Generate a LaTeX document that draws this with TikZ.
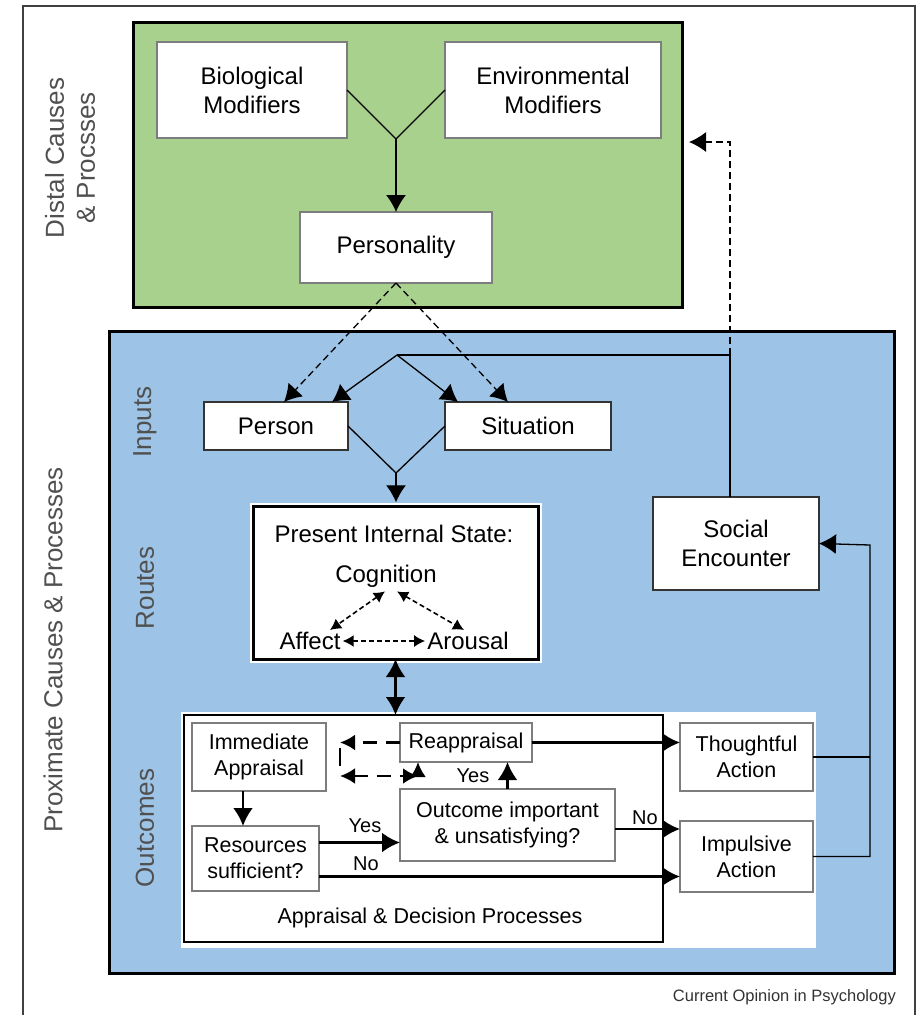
\documentclass[tikz,border=0pt]{standalone}
\usepackage{fontspec}
\setmainfont{Liberation Sans}
\usetikzlibrary{arrows.meta,calc}
\definecolor{gfill}{RGB}{169,209,142}
\definecolor{bfill}{RGB}{157,195,230}
\definecolor{sidegray}{RGB}{80,80,80}
\definecolor{boxgray}{RGB}{125,125,125}
\begin{document}
\begin{tikzpicture}[x=1pt,y=-1pt,
  region/.style={draw=black, line width=3pt, inner sep=0pt, outer sep=0pt},
  ubox/.style={draw=boxgray, line width=1.3pt, fill=white, inner sep=0pt, outer sep=0pt, align=center, font=\fontsize{24}{29}\selectfont},
  lbox/.style={draw=boxgray, line width=1.2pt, fill=white, inner sep=0pt, outer sep=0pt, align=center, font=\fontsize{21.5}{26}\selectfont},
  utext/.style={inner sep=2pt, font=\fontsize{24}{29}\selectfont},
  uline/.style={line width=1.3pt},
  utip/.style={-{Latex[length=17pt,width=20pt]}},
  udash/.style={line width=1.3pt, dash pattern=on 7pt off 4pt},
  pdash/.style={line width=1.6pt, dash pattern=on 5pt off 3pt, {Latex[length=11pt,width=12pt]}-{Latex[length=11pt,width=12pt]}},
  lline/.style={line width=2.8pt},
  ltip/.style={-{Latex[length=18pt,width=20pt]}},
  ldash/.style={line width=2.8pt, dash pattern=on 14pt off 9pt},
  sidelab/.style={rotate=90, text=sidegray, align=center, font=\fontsize{26}{31}\selectfont},
  lab/.style={inner sep=0pt, font=\fontsize{20}{24}\selectfont}
]
\useasboundingbox (0,0) rectangle (922,1015);
\fill[white] (0,0) rectangle (922,1015);
% outer frame
\draw[line width=1.5pt, black!75] (23,1016) -- (23,6) -- (915,6) -- (915,1016);

% ---------- distal region ----------
\node[region, fill=gfill, minimum width=549pt, minimum height=285pt] (distal) at (407.5,164.5) {};
\node[ubox, minimum width=190pt, minimum height=96pt] (bio) at (252,90) {Biological\\Modifiers};
\node[ubox, minimum width=216pt, minimum height=96pt] (env) at (553,90) {Environmental\\Modifiers};
\node[ubox, minimum width=192pt, minimum height=71pt] (pers) at (396,247.5) {Personality};
\coordinate (j1) at (396,139);
\draw[uline] (bio.east) -- (j1) -- (env.west);
\draw[uline, utip] (j1) -- (pers.north);

\node[sidelab] (distlab) at (70,158) {Distal Causes\\\& Procsses};

% ---------- proximate region ----------
\node[region, fill=bfill, minimum width=785pt, minimum height=642pt] (prox) at (501.5,652) {};
\node[sidelab] (proxlab) at (53,650) {Proximate Causes \& Processes};
\node[sidelab] (inlab) at (145,422) {Inputs};
\node[sidelab] (routlab) at (145,588) {Routes};
\node[sidelab] (outlab) at (145,828) {Outcomes};

\node[ubox, draw=black!80, minimum width=144pt, minimum height=48pt] (person) at (276,426) {Person};
\node[ubox, draw=black!80, minimum width=166pt, minimum height=48pt] (situation) at (528,426) {Situation};
\node[ubox, draw=black!80, minimum width=166pt, minimum height=93pt] (social) at (736,543.5) {Social\\Encounter};

% personality -> person / situation (dashed)
\draw[udash, utip] (pers.south) -- ([xshift=8pt]person.north);
\draw[udash, utip] (pers.south) -- ([xshift=-20pt]situation.north);

% social encounter -> inputs
\coordinate (j3) at (397,355);
\coordinate (c1) at (730,355);
\coordinate (fb) at (689,142);
\draw[uline] (c1 |- social.north) -- (c1) -- (j3);
\draw[uline, utip] (j3) -- ([xshift=56pt]person.north);
\draw[uline, utip] (j3) -- ([xshift=-70pt]situation.north);
\draw[udash, utip] (c1) -- (c1 |- fb) -- (fb);

% person + situation -> present internal state
\coordinate (j2) at (396,473);
\node[fill=white, minimum width=292pt, minimum height=160pt, inner sep=0pt] (pishalo) at (395.5,582.5) {};
\node[draw=black, line width=3pt, fill=white, minimum width=285pt, minimum height=153pt, inner sep=0pt, outer sep=0pt] (pis) at (395.5,582.5) {};
\draw[uline] (person.east) -- (j2) -- (situation.west);
\draw[uline, utip] (j2) -- (j2 |- pishalo.north);

\node[utext] (pistitle) at (394,534) {Present Internal State:};
\node[utext] (cog) at (386,576) {Cognition};
\node[utext] (aff) at (310,641) {Affect};
\node[utext] (aro) at (468,641) {Arousal};
\draw[pdash] ([xshift=-1pt,yshift=-2pt]cog.south) -- ([xshift=20pt]aff.north);
\draw[pdash] ([xshift=11pt,yshift=-2pt]cog.south) -- ([xshift=-4pt]aro.north);
\draw[pdash] (aff.east) -- (aro.west);

% ---------- outcomes ----------
\node[fill=white, minimum width=635pt, minimum height=236pt, inner sep=0pt] (outarea) at (498.5,830) {};
\node[draw=black, line width=2.5pt, minimum width=479pt, minimum height=227pt, inner sep=0pt, outer sep=0pt] (adp) at (423.5,828.5) {};
\node[font=\fontsize{21.5}{26}\selectfont, inner sep=0pt] (adplab) at (430,918) {Appraisal \& Decision Processes};

\draw[lline, {Latex[length=18pt,width=20pt]}-{Latex[length=18pt,width=20pt]}] (pis.south) -- (pis.south |- adp.north);

\node[lbox, minimum width=134pt, minimum height=68pt] (imm) at (259,757) {Immediate\\Appraisal};
\node[lbox, minimum width=132pt, minimum height=39pt] (reap) at (466,742.5) {Reappraisal};
\node[lbox, minimum width=127pt, minimum height=65pt] (res) at (255.5,858.5) {Resources\\sufficient?};
\node[lbox, minimum width=215pt, minimum height=72pt] (out) at (507.5,825) {Outcome important\\\& unsatisfying?};
\node[lbox, minimum width=133pt, minimum height=68pt] (thought) at (746.5,757) {Thoughtful\\Action};
\node[lbox, minimum width=133pt, minimum height=71pt] (impulse) at (746.5,856.5) {Impulsive\\Action};

\coordinate (immout) at ([xshift=-16pt]imm.south);
\coordinate (resyes) at ([yshift=16pt]res.east);
\coordinate (resno) at ([yshift=-18pt]res.east);
\coordinate (outno) at ([yshift=-4pt]out.east);
\draw[lline, ltip] (immout) -- (immout |- res.north);
\draw[lline, ltip] (resyes) -- (out.west |- resyes);
\draw[lline, ltip] (resno) -- (impulse.west |- resno);
\draw[lline, ltip] (outno) -- (impulse.west |- outno);
\draw[lline, ltip] (out.north) -- (out.north |- reap.south);
\draw[lline, ltip] (reap.east) -- (thought.west |- reap.east);

\node[lab] (yes1) at (365,826) {Yes};
\node[lab] (no1) at (366,864) {No};
\node[lab] (yes2) at (473,776) {Yes};
\node[lab] (no2) at (645,818) {No};

% dashed reappraisal loop
\coordinate (lc1) at (340,742.5);
\coordinate (lc2) at (340,776);
\coordinate (lc3) at (418,776);
\draw[ldash, -{Latex[length=15pt,width=16pt]}] (reap.west) -- (lc1);
\draw[lline] (340,748) -- (340,766);
\draw[ldash, {Latex[length=15pt,width=16pt]}-{Latex[length=15pt,width=16pt]}] (lc2) -- (lc3);
\draw[lline, -{Latex[length=15pt,width=16pt]}] (lc3) -- (lc3 |- reap.south);

% feedback to social encounter
\coordinate (fx) at (870,545);
\draw[uline] (thought.east) -- (thought.east -| fx);
\draw[uline, utip] (impulse.east) -- (impulse.east -| fx) -- (fx) -- (social.east);

% footer
\node[anchor=base east, inner sep=0pt, text=black!80, font=\fontsize{16.5}{20}\selectfont] (footer) at (896,1001) {Current Opinion in Psychology};
\end{tikzpicture}
\end{document}
